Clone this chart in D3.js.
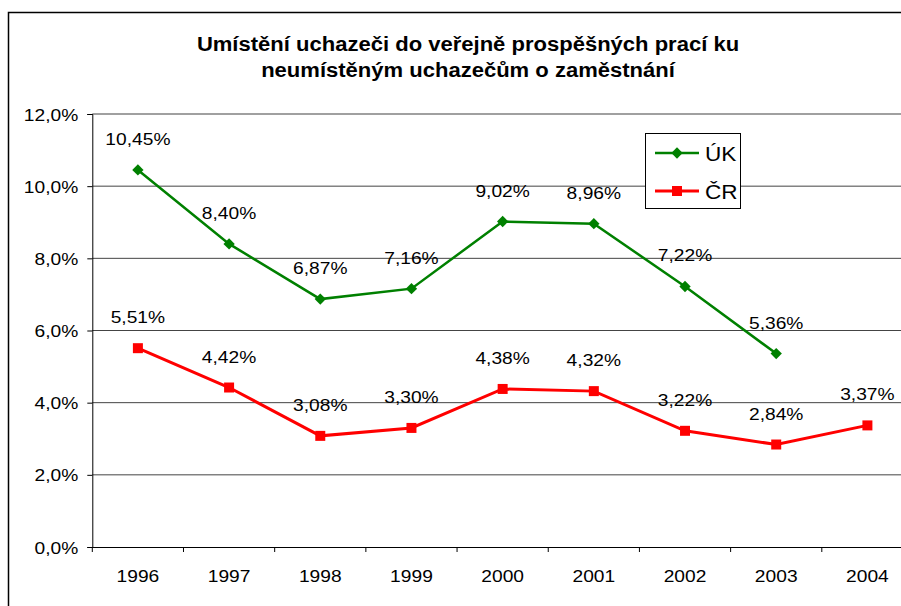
<!DOCTYPE html>
<html><head><meta charset="utf-8">
<script src="https://cdn.jsdelivr.net/npm/d3@7"></script>
<style>html,body{margin:0;padding:0;background:#fff;overflow:hidden}svg{display:block;font-family:"Liberation Sans",Arial,sans-serif}</style>
</head><body>
<svg id="c" width="901" height="606"></svg>
<script>
const categories = ["1996","1997","1998","1999","2000","2001","2002","2003","2004"];
const seriesUK = [10.45, 8.40, 6.87, 7.16, 9.02, 8.96, 7.22, 5.36, null];
const seriesCR = [5.51, 4.42, 3.08, 3.30, 4.38, 4.32, 3.22, 2.84, 3.37];
const yTicks = [0, 2, 4, 6, 8, 10, 12];
const seriesNames = ["ÚK", "ČR"];
const titleLines = ["Umístění uchazeči do veřejně prospěšných prací ku", "neumístěným uchazečům o zaměstnání"];

const SX = 1.13; // horizontal text stretch seen in the reference
const svg = d3.select("#c");
const L = 92.3, R = 913, T = 114, B = 547;
const x = d3.scaleBand().domain(categories).range([L, R]);
const y = d3.scaleLinear().domain([0, 12]).range([B, T]);
const fmt = v => v.toFixed(2).replace(".", ",") + "%";
const fmtTick = v => v.toFixed(1).replace(".", ",") + "%";

function stext(parent, tx, ty, str, size, anchor, bold) {
  return parent.append("text")
    .attr("transform", `translate(${tx},${ty}) scale(${SX},1)`)
    .attr("text-anchor", anchor || "middle")
    .attr("font-size", size).attr("font-weight", bold ? "bold" : "normal")
    .attr("fill", "#000").text(str);
}

// outer chart border
svg.append("rect").attr("x", 8.5).attr("y", 12.5).attr("width", 1000).attr("height", 1000)
  .attr("fill", "#fff").attr("stroke", "#000").attr("stroke-width", 1.5);

// title
const gt = svg.append("g");
titleLines.forEach((t, i) => stext(gt, 468, 51 + i * 26, t, 19.5, "middle", true));

// gridlines
svg.append("g").selectAll("line").data(yTicks.filter(d => d > 0)).join("line")
  .attr("x1", L).attr("x2", R).attr("y1", d => y(d)).attr("y2", d => y(d))
  .attr("stroke", d => d === 12 ? "#808080" : "#444").attr("stroke-width", d => d === 12 ? 1.5 : 1);

// y axis
const yAxis = d3.axisLeft(y).tickValues(yTicks).tickFormat("").tickSize(5);
const gy = svg.append("g").attr("transform", `translate(${L},0)`).call(yAxis);
gy.select(".domain").attr("stroke", "#000");
gy.selectAll(".tick line").attr("stroke", "#000");
gy.selectAll(".tick").each(function(d) {
  stext(d3.select(this), -14, 6, fmtTick(d), 17, "end");
});

// x axis
const xAxis = d3.axisBottom(x).tickSize(0).tickFormat("");
const gx = svg.append("g").attr("transform", `translate(0,${B})`).call(xAxis);
gx.select(".domain").attr("stroke", "#000");
gx.selectAll(".tick").each(function(d) {
  stext(d3.select(this), 0, 35, d, 17, "middle");
});
// category boundary ticks
svg.append("g").selectAll("line").data(categories).join("line")
  .attr("x1", d => x(d)).attr("x2", d => x(d)).attr("y1", B).attr("y2", B + 5)
  .attr("stroke", "#000");

const cx = d => x(d) + x.bandwidth() / 2;
const diamond = {draw(ctx, size) { const r = Math.sqrt(size / 2); ctx.moveTo(0, -r); ctx.lineTo(r, 0); ctx.lineTo(0, r); ctx.lineTo(-r, 0); ctx.closePath(); }};
const series = [
  {name: seriesNames[0], values: seriesUK, color: "#008000", shape: diamond, size: 64, width: 2.5},
  {name: seriesNames[1], values: seriesCR, color: "#ff0000", shape: d3.symbolSquare, size: 100, width: 3}
];

series.forEach(s => {
  const pts = categories.map((c, i) => ({c, v: s.values[i]})).filter(p => p.v != null);
  svg.append("path").datum(pts)
    .attr("d", d3.line().x(p => cx(p.c)).y(p => y(p.v)))
    .attr("fill", "none").attr("stroke", s.color).attr("stroke-width", s.width);
  svg.append("g").selectAll("path").data(pts).join("path")
    .attr("transform", p => `translate(${cx(p.c)},${y(p.v)})`)
    .attr("d", d3.symbol().type(s.shape).size(s.size)).attr("fill", s.color);
  const gl = svg.append("g");
  pts.forEach(p => stext(gl, cx(p.c), y(p.v) - 25, fmt(p.v), 17, "middle"));
});

// legend
const lg = svg.append("g");
lg.append("rect").attr("x", 645.5).attr("y", 133.5).attr("width", 95).attr("height", 75)
  .attr("fill", "#fff").attr("stroke", "#000").attr("stroke-width", 1);
series.forEach((s, i) => {
  const yy = 153 + i * 38;
  lg.append("line").attr("x1", 655).attr("x2", 699).attr("y1", yy).attr("y2", yy)
    .attr("stroke", s.color).attr("stroke-width", s.width);
  lg.append("path").attr("transform", `translate(677,${yy})`)
    .attr("d", d3.symbol().type(s.shape).size(s.size)).attr("fill", s.color);
  stext(lg, 705, yy + 7.5, s.name, 20, "start");
});
</script>
</body></html>
